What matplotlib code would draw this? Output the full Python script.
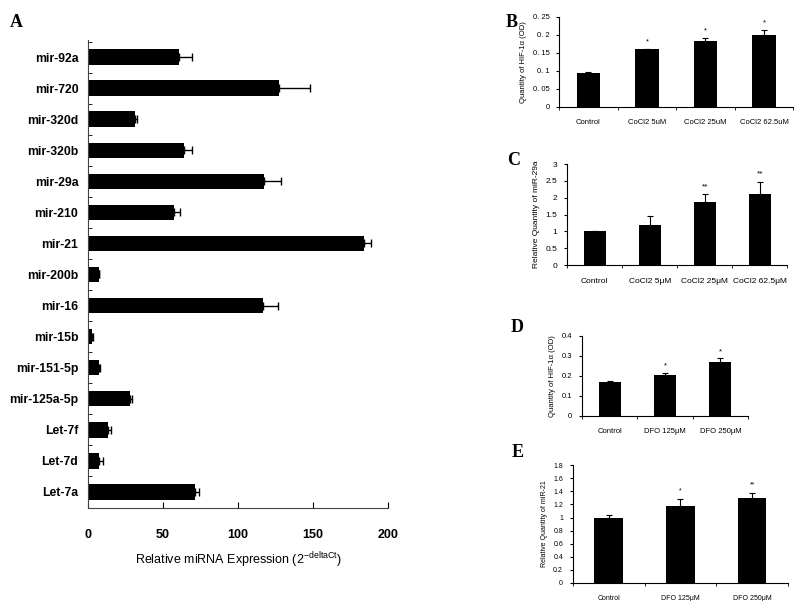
import numpy as np
import matplotlib
matplotlib.use("Agg")
import matplotlib.pyplot as plt

plt.rcParams['font.family'] = ['Liberation Sans', 'DejaVu Sans']

# panel A data
mirnas = ['mir-92a', 'mir-720', 'mir-320d', 'mir-320b', 'mir-29a', 'mir-210',
          'mir-21', 'mir-200b', 'mir-16', 'mir-15b', 'mir-151-5p',
          'mir-125a-5p', 'Let-7f', 'Let-7d', 'Let-7a']
expr = [60.5, 127, 31, 64, 117.5, 57.5, 184, 7, 116.5, 2.7, 7, 28, 13, 7.5, 71]
expr_err = [8.5, 21, 1.5, 5, 11, 4, 4.5, 0.3, 10, 0.5, 1, 1, 2.5, 2.5, 3]

# panel B data
b_labels = ['Control', 'CoCl2 5uM', 'CoCl2 25uM', 'CoCl2 62.5uM']
b_vals = [0.095, 0.16, 0.183, 0.201]
b_err = [0.002, 0.001, 0.008, 0.012]
b_sig = ['', '*', '*', '*']

# panel C data
c_labels = ['Control', 'CoCl2 5μM', 'CoCl2 25μM', 'CoCl2 62.5μM']
c_vals = [1.0, 1.2, 1.87, 2.1]
c_err = [0.02, 0.25, 0.23, 0.38]
c_sig = ['', '', '**', '**']

# panel D data
d_labels = ['Control', 'DFO 125μM', 'DFO 250μM']
d_vals = [0.17, 0.205, 0.268]
d_err = [0.007, 0.012, 0.02]
d_sig = ['', '*', '*']

# panel E data
e_labels = ['Control', 'DFO 125μM', 'DFO 250μM']
e_vals = [1.0, 1.18, 1.3]
e_err = [0.04, 0.1, 0.07]
e_sig = ['', '*', '**']

fig = plt.figure(figsize=(8, 6.01), dpi=100)

# ---- panel A
axA = fig.add_axes([0.11, 0.1547, 0.375, 0.7787])
y = np.arange(len(mirnas))
axA.barh(y, expr, height=0.5, color='black',
         xerr=[np.zeros(len(expr)), expr_err], capsize=3,
         error_kw=dict(ecolor='black', elinewidth=1, capthick=1))
axA.set_ylim(14.52, -0.55)
axA.set_xlim(0, 200)
axA.set_yticks(y)
axA.set_yticklabels(mirnas, fontsize=8.8, fontweight='bold')
axA.set_yticks(np.arange(-0.5, 14.5, 1), minor=True)
axA.tick_params(axis='y', which='major', length=0, pad=7)
axA.tick_params(axis='y', which='minor', direction='in', length=3)
axA.set_xticks([0, 50, 100, 150, 200])
axA.tick_params(axis='x', direction='in', length=4, pad=15, labelsize=9)
for lab in axA.get_xticklabels():
    lab.set_fontweight('bold')
axA.set_xlabel(r'Relative miRNA Expression (2$^{\mathregular{-deltaCt}}$)',
               fontsize=9, labelpad=7)
for s in ['top', 'right']:
    axA.spines[s].set_visible(False)
for s in ['left', 'bottom']:
    axA.spines[s].set_color('#444444')
fig.text(0.012, 0.955, 'A', fontsize=13, fontweight='bold', family='Liberation Serif')


def small_panel(rect, labels, vals, err, sig, ylim, yticks, ytlabels, ylabel, letter, lpos, fs=5.5):
    ax = fig.add_axes(rect)
    x = np.arange(len(labels))
    ax.bar(x, vals, width=0.4, color='black',
           yerr=[np.zeros(len(vals)), err], capsize=2,
           error_kw=dict(ecolor='black', elinewidth=0.8, capthick=0.8))
    ax.set_xlim(-0.5, len(labels) - 0.5)
    ax.set_ylim(*ylim)
    ax.set_yticks(yticks)
    ax.set_yticklabels(ytlabels, fontsize=fs)
    ax.set_xticks(x)
    ax.set_xticklabels(labels, fontsize=fs)
    ax.set_xticks(np.arange(-0.5, len(labels), 1), minor=True)
    ax.tick_params(axis='x', which='major', length=0, pad=9)
    ax.tick_params(axis='x', which='minor', length=2)
    ax.tick_params(axis='y', length=2, pad=5)
    ax.set_ylabel(ylabel, fontsize=fs, labelpad=4)
    for s in ['top', 'right']:
        ax.spines[s].set_visible(False)
    step = ylim[1] - ylim[0]
    for xi, v, e, st in zip(x, vals, err, sig):
        if st:
            ax.text(xi, v + e + step * 0.04, st, ha='center', va='bottom', fontsize=fs)
    fig.text(lpos[0], lpos[1], letter, fontsize=13, fontweight='bold', family='Liberation Serif')
    return ax


small_panel([0.699, 0.822, 0.2925, 0.1498], b_labels, b_vals, b_err, b_sig,
            (0, 0.25), [0, 0.05, 0.1, 0.15, 0.2, 0.25],
            ['0', '0. 05', '0. 1', '0. 15', '0. 2', '0. 25'],
            'Quantity of HIF-1α (OD)', 'B', (0.632, 0.955))

small_panel([0.709, 0.559, 0.275, 0.168], c_labels, c_vals, c_err, c_sig,
            (0, 3), [0, 0.5, 1, 1.5, 2, 2.5, 3],
            ['0', '0.5', '1', '1.5', '2', '2.5', '3'],
            'Relative Quantity of miR-29a', 'C', (0.634, 0.725), fs=6)

small_panel([0.7275, 0.308, 0.2075, 0.133], d_labels, d_vals, d_err, d_sig,
            (0, 0.4), [0, 0.1, 0.2, 0.3, 0.4],
            ['0', '0.1', '0.2', '0.3', '0.4'],
            'Quantity of HIF-1α (OD)', 'D', (0.638, 0.447))

small_panel([0.716, 0.030, 0.269, 0.196], e_labels, e_vals, e_err, e_sig,
            (0, 1.8), [0, 0.2, 0.4, 0.6, 0.8, 1, 1.2, 1.4, 1.6, 1.8],
            ['0', '0.2', '0.4', '0.6', '0.8', '1', '1.2', '1.4', '1.6', '1.8'],
            'Relative Quantity of miR-21', 'E', (0.640, 0.240), fs=5)

fig.savefig('out.png', dpi=100)
